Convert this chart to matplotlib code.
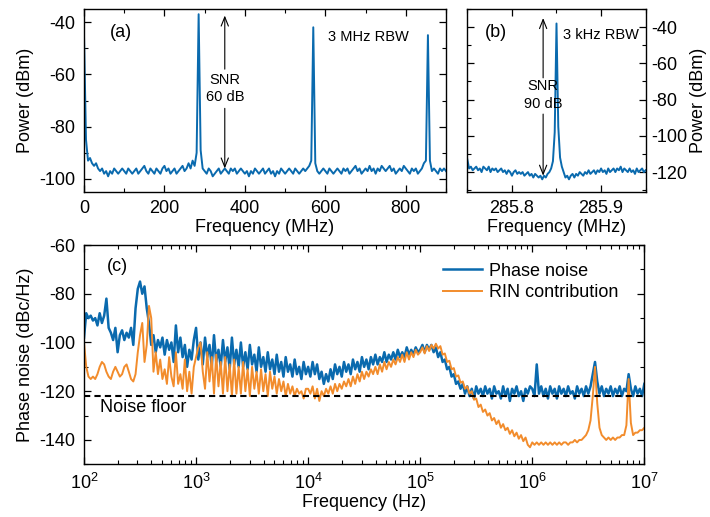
import numpy as np
import matplotlib.pyplot as plt
from matplotlib.ticker import MultipleLocator

plt.rcParams['font.family'] = ['Liberation Sans', 'DejaVu Sans']
plt.rcParams['mathtext.default'] = 'regular'
plt.rcParams['axes.unicode_minus'] = False
plt.rcParams['font.size'] = 13

BLUE = '#0a6aae'
ORANGE = '#f28c2c'

# (a) wide RF spectrum, 0-900 MHz sampled every 5 MHz
rf_wide_range = (0, 900)
rf_wide_dbm = [
    -45, -85, -93, -92, -94, -95, -94, -96, -97, -96,
    -98, -97, -99, -97, -98, -96, -97, -98, -97, -96,
    -97, -98, -96, -97, -98, -97, -96, -98, -97, -96,
    -95, -97, -98, -96, -97, -98, -96, -97, -98, -96,
    -95, -97, -96, -98, -97, -96, -98, -97, -96, -95,
    -97, -96, -94, -96, -93, -95, -90, -37, -89, -96,
    -97, -98, -96, -97, -99, -98, -97, -96, -98, -97,
    -96, -97, -98, -96, -97, -96, -98, -97, -96, -97,
    -98, -97, -99, -97, -98, -96, -97, -98, -97, -96,
    -98, -97, -96, -98, -97, -99, -97, -98, -96, -97,
    -98, -97, -96, -97, -98, -96, -97, -98, -97, -96,
    -97, -96, -95, -93, -42, -94, -97, -98, -97, -96,
    -97, -98, -96, -97, -98, -97, -96, -97, -98, -96,
    -97, -96, -98, -97, -96, -95, -97, -96, -98, -97,
    -96, -97, -95, -97, -96, -98, -96, -97, -95, -96,
    -97, -96, -95, -97, -96, -98, -97, -96, -97, -95,
    -96, -97, -98, -96, -97, -96, -98, -97, -96, -94,
    -93, -45, -93, -97, -96, -97, -98, -96, -97, -96,
    -97,
]

# (b) zoom on the first beat note, 2 kHz steps
rf_zoom_range = (285.75, 285.95)
rf_zoom_dbm = [
    -113, -118, -117, -119, -118, -117, -119, -118, -120, -117,
    -118, -119, -117, -120, -118, -119, -118, -120, -119, -118,
    -120, -119, -121, -119, -120, -122, -120, -119, -121, -120,
    -121, -120, -122, -121, -120, -122, -121, -123, -121, -122,
    -123, -122, -124, -122, -123, -121, -120, -118, -114, -98,
    -38,
    -95, -112, -117, -120, -123, -122, -124, -122, -121, -123,
    -121, -122, -120, -121, -122, -120, -121, -119, -121, -120,
    -119, -121, -119, -120, -118, -120, -119, -121, -118, -120,
    -119, -118, -120, -118, -119, -117, -120, -118, -119, -120,
    -118, -120, -119, -121, -118, -120, -119, -118, -120, -119,
]

# (c) phase noise per decade (log-spaced samples)
pn_100hz = [-98, -88, -90, -89, -91, -90, -93, -88, -92, -89,
            -82, -94, -96, -99, -94, -104, -97, -95, -99, -96,
            -98, -94, -101, -86, -78, -75, -80, -77, -86, -92,
            -101, -97, -104, -99, -102, -98, -105, -99, -103, -100,
            -108, -93, -104, -98, -106, -101, -110, -103, -107, -99]
pn_1khz = [-94, -107, -100, -109, -98, -106, -101, -110, -97, -108,
           -103, -110, -99, -108, -102, -111, -98, -109, -103, -110,
           -100, -110, -104, -111, -101, -109, -105, -112, -102, -110,
           -106, -112, -104, -111, -107, -113, -105, -112, -108, -114,
           -106, -112, -109, -114, -107, -113, -110, -115, -108, -113]
pn_10khz = [-110, -114, -108, -113, -109, -115, -112, -117, -113, -116,
            -111, -115, -109, -113, -110, -114, -108, -112, -109, -113,
            -107, -111, -108, -112, -106, -110, -107, -111, -106, -109,
            -105, -109, -106, -108, -104, -108, -105, -107, -104, -107,
            -103, -106, -104, -106, -102, -105, -103, -105, -102, -104]
pn_100khz = [-103, -101, -104, -101, -103, -101, -104, -102, -106, -104,
             -108, -107, -111, -110, -114, -113, -117, -116, -119, -117,
             -121, -118, -122, -119, -123, -118, -121, -119, -122, -118,
             -121, -119, -123, -118, -121, -120, -123, -118, -122, -119,
             -124, -119, -121, -118, -122, -120, -124, -119, -121, -118]
pn_1mhz = [-119, -122, -109, -121, -118, -122, -119, -123, -118, -121,
           -119, -123, -118, -121, -119, -122, -118, -121, -120, -123,
           -118, -121, -119, -122, -118, -121, -118, -113, -108, -116,
           -121, -118, -122, -119, -121, -118, -122, -119, -121, -118,
           -122, -119, -120, -113, -119, -122, -118, -121, -119, -122,
           -117]

rin_100hz = [-100, -110, -114, -115, -114, -115, -113, -110, -108, -109,
             -112, -114, -115, -112, -110, -112, -114, -113, -110, -109,
             -112, -115, -116, -113, -104, -97, -92, -108, -101, -85,
             -90, -112, -104, -113, -107, -115, -111, -117, -106, -114,
             -118, -104, -117, -113, -119, -107, -120, -112, -121, -110]
rin_1khz = [-106, -102, -100, -112, -119, -104, -116, -106, -121, -105,
            -118, -108, -121, -106, -120, -109, -122, -107, -121, -110,
            -121, -108, -120, -111, -122, -110, -119, -112, -121, -111,
            -120, -113, -122, -112, -119, -114, -121, -115, -120, -116,
            -122, -117, -121, -118, -122, -119, -121, -120, -123, -119]
rin_10khz = [-119, -121, -118, -123, -119, -124, -120, -122, -119, -121,
             -118, -121, -117, -120, -117, -119, -116, -118, -115, -118,
             -114, -117, -113, -116, -112, -115, -112, -114, -111, -113,
             -110, -113, -109, -112, -108, -111, -108, -110, -107, -109,
             -106, -108, -105, -108, -104, -107, -104, -106, -103, -105]
rin_100khz = [-104, -102, -104.5, -101.5, -103.5, -101, -102.5, -100.5, -102.5, -101.5,
              -105, -104.5, -108, -107.5, -111, -110.5, -114, -113.5, -116.5, -116,
              -119, -118, -121, -120, -123.5, -123, -126.5, -125.5, -128.5, -127.5,
              -130, -129, -132, -131, -133.5, -132, -135, -133.5, -136, -135,
              -137.5, -136, -138.5, -137, -139.5, -138, -140.5, -139, -142, -143]
rin_1mhz = [-141, -142, -141, -142, -141, -142, -141, -142, -141, -142,
            -141, -142, -141, -142, -141, -141, -142, -141, -141, -140,
            -141, -140, -140, -139, -138, -136, -132, -122, -110, -125,
            -135, -138, -139, -140, -139, -140, -139, -140, -139, -139,
            -138, -138, -134, -115, -133, -138, -137, -137, -136, -136,
            -135]

noise_floor_dbc = -122


def decade_freqs(values, decade, last=False):
    return np.logspace(decade, decade + 1, len(values), endpoint=last)


def stitch(decades):
    freqs = [decade_freqs(v, d, d == 6) for d, v in decades]
    return np.concatenate(freqs), np.concatenate([np.array(v, float) for _, v in decades])


def style_axes(ax):
    ax.tick_params(which='both', direction='in', top=True, right=True)
    ax.tick_params(which='major', length=5, width=0.9, pad=6)
    ax.tick_params(which='minor', length=3, width=0.8)
    for sp in ax.spines.values():
        sp.set_linewidth(1.0)


fig = plt.figure(figsize=(7.1, 5.17), dpi=100)

# ---- (a)
ax_a = fig.add_axes([0.1183, 0.6286, 0.5099, 0.354])
f_a = np.linspace(rf_wide_range[0], rf_wide_range[1], len(rf_wide_dbm))
ax_a.plot(f_a, rf_wide_dbm, color=BLUE, lw=1.4)
ax_a.set_xlim(0, 900)
ax_a.set_ylim(-105, -35)
ax_a.xaxis.set_major_locator(MultipleLocator(200))
ax_a.xaxis.set_minor_locator(MultipleLocator(100))
ax_a.yaxis.set_major_locator(MultipleLocator(20))
ax_a.yaxis.set_minor_locator(MultipleLocator(10))
ax_a.set_xlabel('Frequency (MHz)', labelpad=1)
ax_a.set_ylabel('Power (dBm)')
style_axes(ax_a)
ax_a.text(0.072, 0.874, '(a)', transform=ax_a.transAxes, va='center')
ax_a.text(0.674, 0.847, '3 MHz RBW', transform=ax_a.transAxes, va='center', fontsize=10.5)
ax_a.text(350, -65.5, 'SNR\n60 dB', ha='center', va='center', fontsize=10.5, linespacing=1.3)
arrow = dict(arrowstyle='->,head_length=0.5,head_width=0.2', lw=0.8, color='black', shrinkA=0, shrinkB=0)
ax_a.annotate('', xy=(350, -37.5), xytext=(350, -58), arrowprops=arrow)
ax_a.annotate('', xy=(350, -96), xytext=(350, -73), arrowprops=arrow)

# ---- (b)
ax_b = fig.add_axes([0.6582, 0.6286, 0.2512, 0.354])
f_b = np.linspace(rf_zoom_range[0], rf_zoom_range[1], len(rf_zoom_dbm))
ax_b.plot(f_b, rf_zoom_dbm, color=BLUE, lw=1.4)
ax_b.set_xlim(*rf_zoom_range)
ax_b.set_ylim(-131, -30)
ax_b.xaxis.set_major_locator(MultipleLocator(0.1))
ax_b.xaxis.set_minor_locator(MultipleLocator(0.05))
ax_b.yaxis.set_major_locator(MultipleLocator(20))
ax_b.yaxis.set_minor_locator(MultipleLocator(10))
ax_b.set_xlabel('Frequency (MHz)', labelpad=1)
ax_b.set_ylabel('Power (dBm)', labelpad=2)
ax_b.yaxis.set_label_position('right')
style_axes(ax_b)
ax_b.tick_params(labelleft=False, labelright=True)
ax_b.tick_params(axis='y', which='major', pad=4)
ax_b.text(0.099, 0.874, '(b)', transform=ax_b.transAxes, va='center')
ax_b.text(0.536, 0.858, '3 kHz RBW', transform=ax_b.transAxes, va='center', fontsize=10.5)
ax_b.text(285.835, -77.5, 'SNR\n90 dB', ha='center', va='center', fontsize=10.5, linespacing=1.3)
ax_b.annotate('', xy=(285.835, -35), xytext=(285.835, -68), arrowprops=arrow)
ax_b.annotate('', xy=(285.835, -122), xytext=(285.835, -88), arrowprops=arrow)

# ---- (c)
ax_c = fig.add_axes([0.1183, 0.1019, 0.7892, 0.4242])
f_pn, pn = stitch([(2, pn_100hz), (3, pn_1khz), (4, pn_10khz), (5, pn_100khz), (6, pn_1mhz)])
f_rin, rin = stitch([(2, rin_100hz), (3, rin_1khz), (4, rin_10khz), (5, rin_100khz), (6, rin_1mhz)])
ax_c.plot(f_pn, pn, color=BLUE, lw=1.8, label='Phase noise')
ax_c.plot(f_rin, rin, color=ORANGE, lw=1.4, label='RIN contribution')
ax_c.axhline(noise_floor_dbc, color='black', lw=1.5, ls=(0, (3, 2)))
ax_c.set_xscale('log')
ax_c.set_xlim(1e2, 1e7)
ax_c.set_ylim(-150, -60)
ax_c.yaxis.set_major_locator(MultipleLocator(20))
ax_c.yaxis.set_minor_locator(MultipleLocator(10))
ax_c.set_xlabel('Frequency (Hz)', labelpad=1)
ax_c.set_ylabel('Phase noise (dBc/Hz)')
style_axes(ax_c)
ax_c.text(0.041, 0.904, '(c)', transform=ax_c.transAxes, va='center')
ax_c.text(0.0286, 0.257, 'Noise floor', transform=ax_c.transAxes, va='center')
ax_c.legend(loc='upper left', bbox_to_anchor=(0.64, 0.92), frameon=False,
            handlelength=2.2, handletextpad=0.35, labelspacing=0.25,
            borderpad=0, borderaxespad=0)

fig.savefig('out.png', dpi=100)
